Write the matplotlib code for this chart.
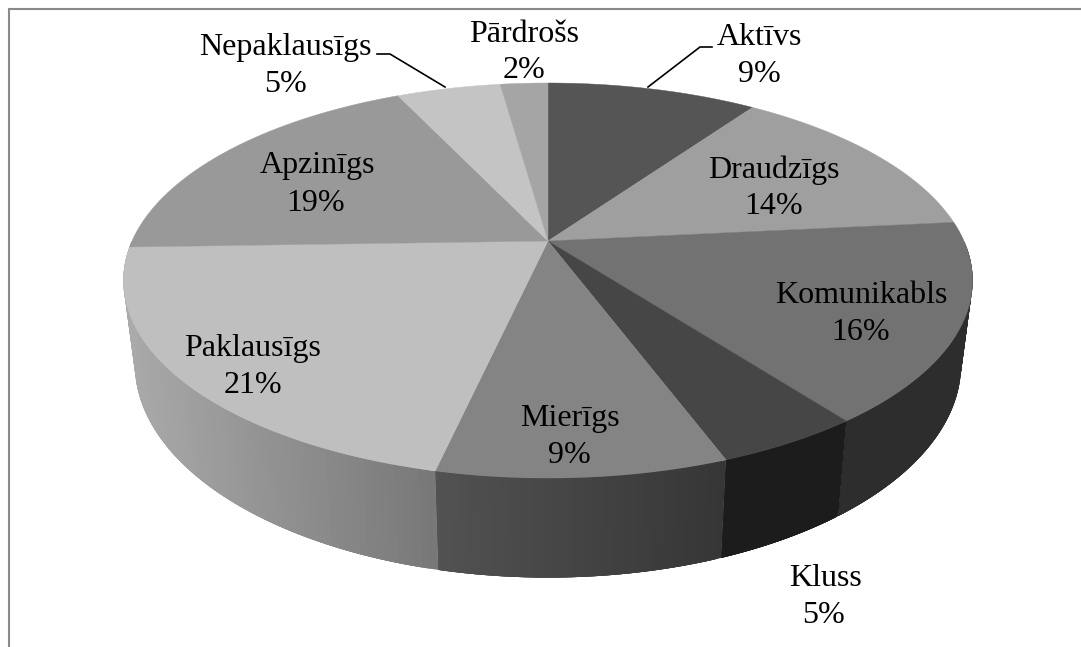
import matplotlib
matplotlib.use("Agg")
import matplotlib.pyplot as plt
import numpy as np

names = ["Aktīvs", "Draudzīgs", "Komunikabls", "Kluss", "Mierīgs",
         "Paklausīgs", "Apzinīgs", "Nepaklausīgs", "Pārdrošs"]
shares = [9.7, 13.7, 16.3, 4.65, 9.15, 21.0, 18.5, 4.8, 2.2]
percent_labels = ["9%", "14%", "16%", "5%", "9%", "21%", "19%", "5%", "2%"]

# grey levels
top_colors = ["#555555", "#9f9f9f", "#727272", "#464646", "#848484",
              "#bfbfbf", "#999999", "#c4c4c4", "#a5a5a5"]
side_left = ["#333333", "#5e5e5e", "#2d2d2d", "#1c1c1c", "#525252",
             "#aaaaaa", "#5a5a5a", "#767676", "#636363"]
side_right = ["#333333", "#5e5e5e", "#2d2d2d", "#1c1c1c", "#363636",
              "#787878", "#5a5a5a", "#767676", "#636363"]

# label anchors in picture pixels (centre x, baseline y)
name_xy = [(759, 45), (774, 178), (861, 303), (825, 586), (570, 426),
           (253, 356), (317, 173), (285, 55), (524, 42)]
pct_xy = [(759, 82), (774, 214), (861, 340), (824, 623), (569, 463),
          (253, 393), (316, 211), (285, 92), (524, 78)]

# projection of the tilted disc
CX, CY = 548.0, 241.0
A, B, K = 416.0, 189.6, 0.2
LOW_X, LOW_Y, LOW_C = 0.973, 1.08, 321.6


def rim(frac):
    theta = 2 * np.pi * np.asarray(frac)
    u, v = np.sin(theta), np.cos(theta)
    s = 1 / (1 + K * v)
    return CX + A * u * s, CY - B * v * s


def low_rim(frac):
    x, y = rim(frac)
    return CX + LOW_X * (x - CX), LOW_C + LOW_Y * (y - CY)


def mix(c0, c1, t):
    a = np.array(matplotlib.colors.to_rgb(c0))
    b = np.array(matplotlib.colors.to_rgb(c1))
    return tuple(a + (b - a) * t)


fig = plt.figure(figsize=(10.81, 6.47), dpi=100)
ax = fig.add_axes([0, 0, 1, 1])
ax.set_xlim(0, 1081)
ax.set_ylim(647, 0)
ax.axis("off")

edges = np.concatenate([[0], np.cumsum(shares)]) / np.sum(shares)

# side wall first; strips overlap so no seams show up
for i in range(len(shares)):
    f = np.linspace(edges[i], edges[i + 1], 80)
    f = f[np.cos(2 * np.pi * f) < 0.0]
    if len(f) < 2:
        continue
    xt, yt = rim(f)
    xb, yb = low_rim(f)
    lo, hi = xb.min(), xb.max()
    for j in range(len(f) - 1):
        k = min(j + 4, len(f) - 1)
        t = (xb[j] - lo) / max(hi - lo, 1)
        c = mix(side_left[i], side_right[i], t)
        ax.fill(np.r_[xt[j:k + 1], xb[j:k + 1][::-1]],
                np.r_[yt[j:k + 1], yb[j:k + 1][::-1]],
                color=c, lw=0, zorder=2)

# top face
for i in range(len(shares)):
    f = np.linspace(edges[i], edges[i + 1], 120)
    x, y = rim(f)
    ax.fill(np.r_[CX, x], np.r_[CY, y], color=top_colors[i], lw=0.3, zorder=3)

# leader lines
ax.plot([712, 700, 648], [47, 47, 87], color="black", lw=1.2, zorder=4)
ax.plot([377, 390, 445], [54, 54, 87], color="black", lw=1.2, zorder=4)

for name, pct, nxy, pxy in zip(names, percent_labels, name_xy, pct_xy):
    ax.text(nxy[0], nxy[1], name, ha="center", va="baseline", fontsize=23,
            family="Liberation Serif", color="black", zorder=5)
    ax.text(pxy[0], pxy[1], pct, ha="center", va="baseline", fontsize=23,
            family="Liberation Serif", color="black", zorder=5)

# chart frame: only the left and top edges fall inside the picture
ax.plot([9, 9, 1081], [647, 8.5, 8.5], color="#8a8a8a", lw=1.5, zorder=1,
        solid_joinstyle="miter")

fig.savefig("out.png", dpi=100)
